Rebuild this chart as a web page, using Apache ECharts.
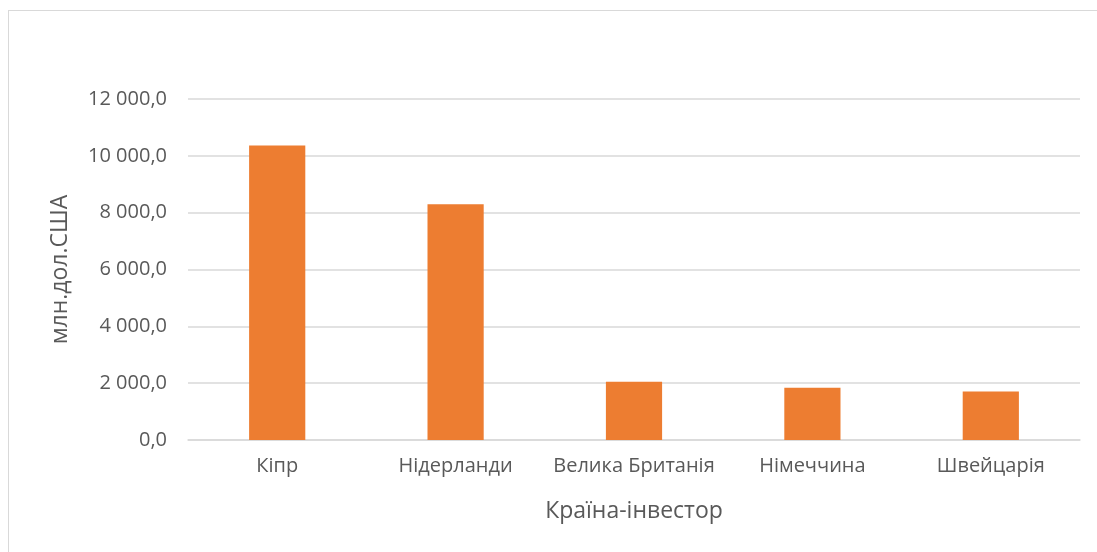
<!DOCTYPE html>
<html>
<head>
<meta charset="utf-8">
<script src="https://cdn.jsdelivr.net/npm/echarts@6/dist/echarts.min.js"></script>
<style>
html,body{margin:0;padding:0;background:#fff;width:1097px;height:552px;overflow:hidden;}
#frame{position:absolute;left:8px;top:10px;width:1200px;height:600px;border:1px solid #d9d9d9;box-sizing:border-box;}
#c{position:absolute;left:0;top:0;width:1097px;height:552px;}
</style>
</head>
<body>
<div id="frame"></div>
<div id="c"></div>
<script>
const categories = ['Кіпр', 'Нідерланди', 'Велика Британія', 'Німеччина', 'Швейцарія'];
const values = [10366, 8292, 2049, 1838, 1708];
const yAxisTitle = 'млн.дол.США';
const xAxisTitle = 'Країна-інвестор';

function fmt(v) {
  const s = Math.abs(v).toFixed(1).split('.');
  const int = s[0].replace(/\B(?=(\d{3})+(?!\d))/g, ' ');
  return (v < 0 ? '-' : '') + int + ',' + s[1];
}

const chart = echarts.init(document.getElementById('c'));
chart.setOption({
  animation: false,
  textStyle: { fontFamily: 'Open Sans, Noto Sans, sans-serif' },
  grid: { left: 188, right: 17, top: 99, bottom: 112 },
  xAxis: {
    type: 'category',
    data: categories,
    name: xAxisTitle,
    nameLocation: 'middle',
    nameGap: 60,
    nameTextStyle: { fontSize: 23, color: '#595959' },
    axisLine: { lineStyle: { color: '#d9d9d9', width: 1.5 } },
    axisTick: { show: false },
    axisLabel: { fontSize: 20, color: '#595959', margin: 16, interval: 0 }
  },
  yAxis: {
    type: 'value',
    min: 0, max: 12000, interval: 2000,
    name: yAxisTitle,
    nameLocation: 'middle',
    nameGap: 116,
    nameRotate: 90,
    nameTextStyle: { fontSize: 23, color: '#595959' },
    axisLine: { show: false },
    axisTick: { show: false },
    axisLabel: { fontSize: 20, color: '#595959', margin: 21, formatter: fmt },
    splitLine: { lineStyle: { color: '#d9d9d9', width: 1.5 } }
  },
  series: [{
    type: 'bar',
    data: values,
    barWidth: '31.5%',
    itemStyle: { color: '#ED7D31' }
  }]
});
</script>
</body>
</html>
